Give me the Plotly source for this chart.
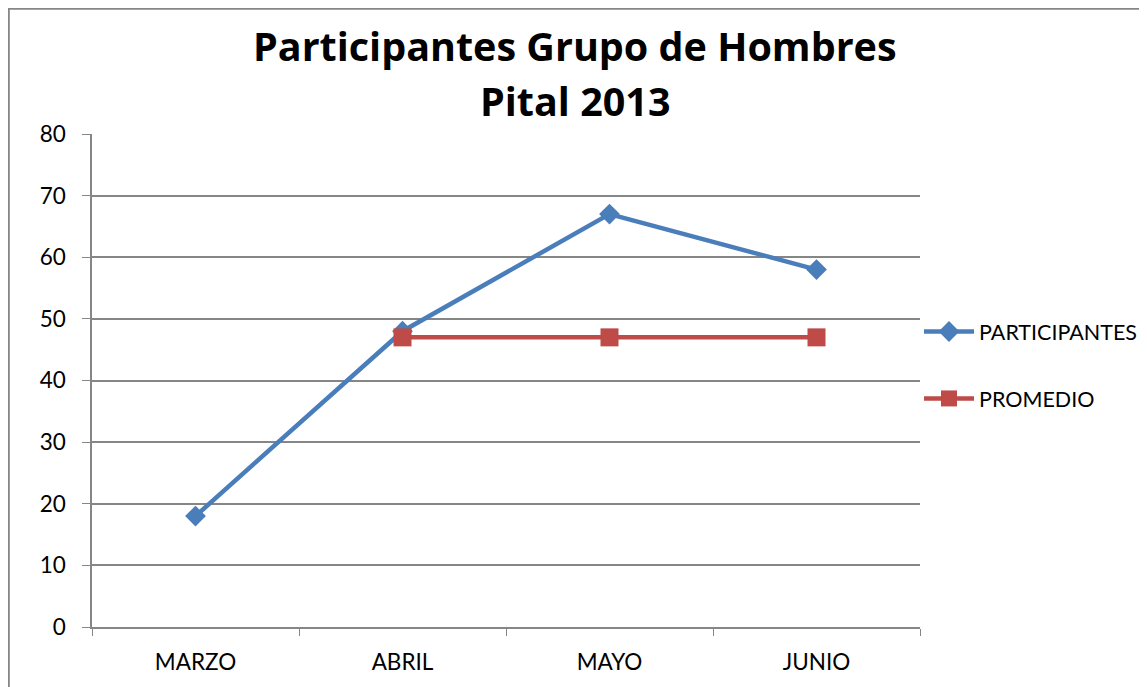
import plotly.graph_objects as go

categories = ["MARZO", "ABRIL", "MAYO", "JUNIO"]
participantes = [18, 48, 67, 58]
promedio = [None, 47, 47, 47]
y_ticks = [0, 10, 20, 30, 40, 50, 60, 70, 80]
title_lines = ["Participantes Grupo de Hombres", "Pital 2013"]

FONT = "Lato, Carlito, Calibri, sans-serif"
TFONT = "'Open Sans', Carlito, Calibri, sans-serif"
OFF = 8  # page body margin
W, H = 1147 - OFF, 687 - OFF
L, T = 92 - OFF, 134 - OFF
R = W - (920 - OFF)
B = H - (627 - OFF)
pw, ph = W - L - R, H - T - B


def px(sx):
    return (sx - OFF - L) / pw


def py(sy):
    return 1 - (sy - OFF - T) / ph


fig = go.Figure()
fig.add_trace(go.Scatter(
    x=categories, y=participantes, name="PARTICIPANTES", mode="lines+markers",
    line=dict(color="#4A7EBB", width=4.5),
    marker=dict(symbol="diamond", size=16, color="#4A7EBB"),
    legendgroup="a",
))
fig.add_trace(go.Scatter(
    x=categories, y=promedio, name="PROMEDIO", mode="lines+markers",
    line=dict(color="#BE4B48", width=4.5),
    marker=dict(symbol="square", size=18, color="#BE4B48"),
    legendgroup="b",
))

annotations = []
for txt, sy in zip(title_lines, [46, 101]):
    annotations.append(dict(
        text="<b>" + txt + "</b>", xref="paper", yref="paper",
        x=px(575), y=py(sy), xanchor="center", yanchor="middle",
        showarrow=False, font=dict(family=TFONT, size=39.5, color="black"),
    ))

fig.update_layout(
    width=W, height=H,
    margin=dict(l=L, r=R, t=T, b=B, autoexpand=False),
    paper_bgcolor="white", plot_bgcolor="white",
    font=dict(family=FONT, size=22, color="black"),
    annotations=annotations,
    showlegend=True,
    legend=dict(
        x=px(919), xanchor="left", y=py(311), yanchor="top",
        font=dict(family=FONT, size=21.5, color="black"),
        tracegroupgap=36, traceorder="grouped", itemwidth=50,
        bgcolor="rgba(0,0,0,0)",
    ),
    xaxis=dict(
        type="category", range=[-0.5, 3.5], showgrid=False,
        showline=True, linecolor="#868686", linewidth=1.5,
        ticks="outside", tickson="boundaries", ticklen=7, tickcolor="#868686",
        tickfont=dict(family=FONT, size=22.5, color="black"),
        ticklabelstandoff=14,
        fixedrange=True,
    ),
    yaxis=dict(
        range=[0, 80], tickvals=y_ticks, showgrid=True, gridcolor="#868686", gridwidth=1.5,
        showline=True, linecolor="#868686", linewidth=1.5,
        ticks="outside", ticklen=8, tickcolor="#868686",
        tickfont=dict(family=FONT, size=22.5, color="black"),
        ticklabelstandoff=12,
        zeroline=False, fixedrange=True,
    ),
    shapes=[dict(
        type="rect", xref="paper", yref="paper",
        x0=(0.8 - L) / pw, x1=(W + 20 - L) / pw,
        y0=-(B + 20) / ph, y1=1 + (T - 0.8) / ph,
        line=dict(color="#868686", width=2), fillcolor="rgba(0,0,0,0)", layer="below",
    )],
)

fig.write_html("out.html")
